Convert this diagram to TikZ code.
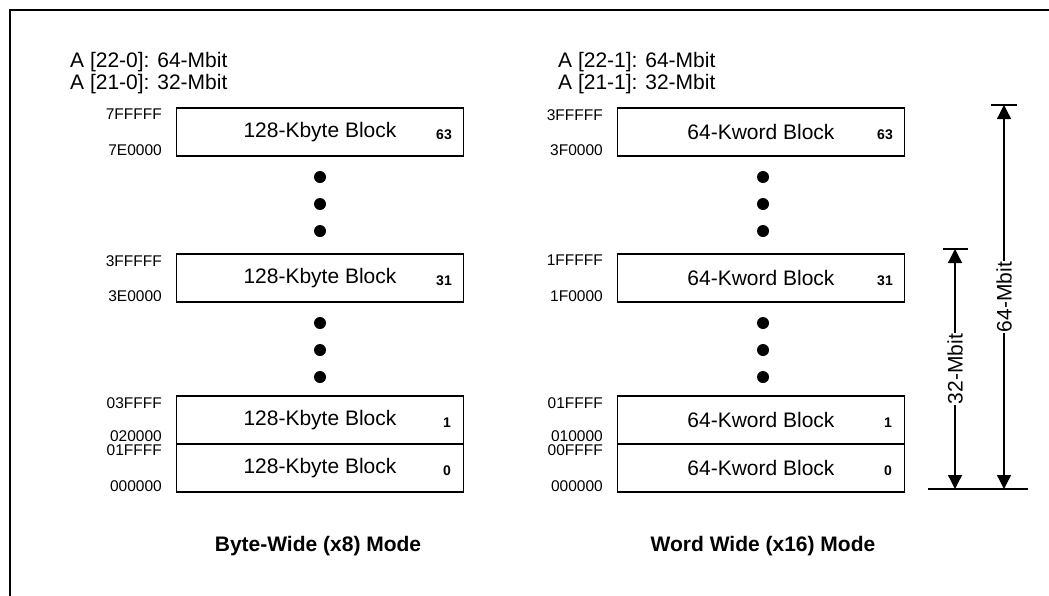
\documentclass[tikz,border=0pt]{standalone}
\usepackage{fontspec}
\setmainfont{Liberation Sans}
\usetikzlibrary{arrows.meta}
\begin{document}
\begin{tikzpicture}[x=1pt,y=-1pt,
  blk/.style={draw, line width=1.3pt, minimum width=287pt, minimum height=48pt, inner sep=0pt, font=\fontsize{21}{25}\selectfont},
  addr/.style={inner sep=0pt, font=\fontsize{15.5}{18}\selectfont},
  num/.style={anchor=base, inner sep=0pt, font=\bfseries\fontsize{14}{16}\selectfont},
  hdr/.style={anchor=base west, inner sep=0pt, font=\fontsize{21}{25}\selectfont},
  bigdot/.style={circle, fill, minimum size=12pt, inner sep=0pt},
  capt/.style={font=\bfseries\fontsize{21}{25}\selectfont},
  dimline/.style={line width=1.3pt, -{Triangle[length=14pt,width=14pt]}},
  tick/.style={line width=1.3pt},
  dimlabel/.style={rotate=90, inner sep=1pt, font=\fontsize{21}{25}\selectfont}
  ]
\useasboundingbox (0,0) rectangle (1049,595);
\draw[line width=2pt] (10,600) -- (10,10) -- (1060,10);

% headers
\node[hdr] (h1) at (70,67) {A [22-0]: 64-Mbit};
\node[hdr] (h2) at (70,89) {A [21-0]: 32-Mbit};
\node[hdr] (h3) at (558,67) {A [22-1]: 64-Mbit};
\node[hdr] (h4) at (558,89) {A [21-1]: 32-Mbit};

% left column
\node[blk] (L63) at (320,132) {128-Kbyte Block};
\node[blk] (L31) at (320,278) {128-Kbyte Block};
\node[blk] (L1) at (320,420) {128-Kbyte Block};
\node[blk] (L0) at (320,468) {128-Kbyte Block};
\node[num] (nL63) at (444,139) {63};
\node[num] (nL31) at (444,285) {31};
\node[num] (nL1) at (447,427) {1};
\node[num] (nL0) at (447,475) {0};
\node[bigdot] (dL1) at (320,177) {};
\node[bigdot] (dL2) at (320,204) {};
\node[bigdot] (dL3) at (320,231) {};
\node[bigdot] (dL4) at (320,323) {};
\node[bigdot] (dL5) at (320,350) {};
\node[bigdot] (dL6) at (320,377) {};
\node[addr, anchor=north east] (aL1) at (162,109) {7FFFFF};
\node[addr, anchor=base east] (aL2) at (162,155) {7E0000};
\node[addr, anchor=north east] (aL3) at (162,255) {3FFFFF};
\node[addr, anchor=base east] (aL4) at (162,301) {3E0000};
\node[addr, anchor=north east] (aL5) at (162,397) {03FFFF};
\node[addr, anchor=base east] (aL6) at (162,441) {020000};
\node[addr, anchor=north east] (aL7) at (162,444) {01FFFF};
\node[addr, anchor=base east] (aL8) at (162,491) {000000};

% right column
\node[blk] (R63) at (761,132) {64-Kword Block};
\node[blk] (R31) at (761,278) {64-Kword Block};
\node[blk] (R1) at (761,420) {64-Kword Block};
\node[blk] (R0) at (761,468) {64-Kword Block};
\node[num] (nR63) at (885,139) {63};
\node[num] (nR31) at (885,285) {31};
\node[num] (nR1) at (888,427) {1};
\node[num] (nR0) at (888,475) {0};
\node[bigdot] (dR1) at (763,177) {};
\node[bigdot] (dR2) at (763,204) {};
\node[bigdot] (dR3) at (763,231) {};
\node[bigdot] (dR4) at (763,323) {};
\node[bigdot] (dR5) at (763,350) {};
\node[bigdot] (dR6) at (763,377) {};
\node[addr, anchor=north east] (aR1) at (603,109) {3FFFFF};
\node[addr, anchor=base east] (aR2) at (603,155) {3F0000};
\node[addr, anchor=north east] (aR3) at (603,255) {1FFFFF};
\node[addr, anchor=base east] (aR4) at (603,301) {1F0000};
\node[addr, anchor=north east] (aR5) at (603,397) {01FFFF};
\node[addr, anchor=base east] (aR6) at (603,441) {010000};
\node[addr, anchor=north east] (aR7) at (603,444) {00FFFF};
\node[addr, anchor=base east] (aR8) at (603,491) {000000};

% dimension arrows
\coordinate (t32) at (955,249);
\coordinate (b32) at (955,489);
\coordinate (t64) at (1004,105);
\coordinate (b64) at (1004,489);
\draw[tick] (943,249) -- (968,249);
\draw[tick] (991,105) -- (1017,105);
\draw[tick] (928,489) -- (1028,489);
\node[dimlabel] (l32) at (955,369) {32-Mbit};
\node[dimlabel] (l64) at (1004,297) {64-Mbit};
\draw[dimline] (l32.east) -- (t32);
\draw[dimline] (l32.west) -- (b32);
\draw[dimline] (l64.east) -- (t64);
\draw[dimline] (l64.west) -- (b64);

% captions
\node[capt] (c1) at (318,546) {Byte-Wide (x8) Mode};
\node[capt] (c2) at (763,546) {Word Wide (x16) Mode};
\end{tikzpicture}
\end{document}
